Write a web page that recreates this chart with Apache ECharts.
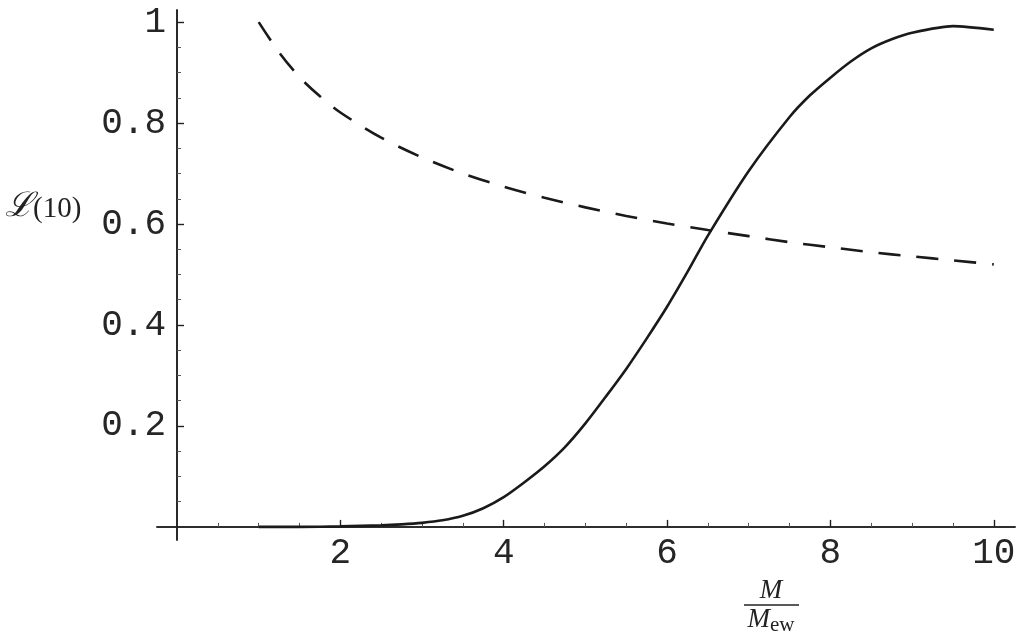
<!DOCTYPE html>
<html><head><meta charset="utf-8">
<script src="https://cdn.jsdelivr.net/npm/echarts@6/dist/echarts.min.js"></script>
<style>html,body{margin:0;padding:0;background:#fff}#c{width:1024px;height:642px}</style>
</head><body><div id="c"></div>
<script>
// x values (M / M_ew)
const solidX = [1,1.5,2,2.5,2.75,3,3.25,3.5,3.75,4,4.25,4.5,4.75,5,5.25,5.5,5.75,6,6.25,6.5,7,7.5,7.75,8,8.25,8.5,8.75,9,9.5,10];
const solidY = [0,0,0.001,0.003,0.005,0.008,0.013,0.022,0.037,0.059,0.088,0.12,0.158,0.205,0.258,0.313,0.373,0.436,0.505,0.577,0.705,0.812,0.855,0.89,0.922,0.948,0.966,0.979,0.992,0.985];
const dashX = [1,1.25,1.5,1.75,2,2.5,3,3.5,4,4.5,5,5.5,6,6.5,7,7.5,8,8.5,9,9.5,10];
const dashY = [1.0,0.94,0.891,0.853,0.821,0.771,0.732,0.70,0.674,0.652,0.633,0.616,0.601,0.588,0.576,0.564,0.554,0.544,0.536,0.528,0.52];
const xMajor = [2,4,6,8,10];
const xMinor = [0.5,1,1.5,2.5,3,3.5,4.5,5,5.5,6.5,7,7.5,8.5,9,9.5];
const yMajor = [0.2,0.4,0.6,0.8,1];
const yMinor = [0.05,0.1,0.15,0.25,0.3,0.35,0.45,0.5,0.55,0.65,0.7,0.75,0.85,0.9,0.95];

const ink = '#1a1a1a';
const labelFont = {fontFamily:'Liberation Mono', fontSize:36, color:'#262626'};
const chart = echarts.init(document.getElementById('c'), null, {renderer:'canvas'});
const axisLine = {onZero:true, lineStyle:{color:'#222', width:1.6}};
chart.setOption({
  animation:false,
  grid:{left:157, right:9, top:10, bottom:102},
  xAxis:[
    {type:'value', min:-0.245, max:10.26, position:'bottom', axisLine:axisLine, splitLine:{show:false},
     axisTick:{inside:true, length:7, customValues:xMajor, lineStyle:{color:'#222', width:1.4}},
     axisLabel:{customValues:xMajor, margin:-5, formatter:v=>String(v), ...labelFont}},
    {type:'value', min:-0.245, max:10.26, position:'bottom', axisLine:axisLine, splitLine:{show:false},
     axisTick:{inside:true, length:4, customValues:xMinor, lineStyle:{color:'#555', width:1}},
     axisLabel:{show:false}}
  ],
  yAxis:[
    {type:'value', min:-0.026, max:1.024, position:'left', axisLine:axisLine, splitLine:{show:false},
     axisTick:{inside:true, length:7, customValues:yMajor, lineStyle:{color:'#222', width:1.4}},
     axisLabel:{customValues:yMajor, margin:-9, formatter:v=>String(v), ...labelFont}},
    {type:'value', min:-0.026, max:1.024, position:'left', axisLine:axisLine, splitLine:{show:false},
     axisTick:{inside:true, length:4, customValues:yMinor, lineStyle:{color:'#555', width:1}},
     axisLabel:{show:false}}
  ],
  series:[
    {type:'line', xAxisIndex:0, yAxisIndex:0, data:solidX.map((x,i)=>[x,solidY[i]]), showSymbol:false, smooth:0.25,
     lineStyle:{color:ink, width:2.6}},
    {type:'line', xAxisIndex:0, yAxisIndex:0, data:dashX.map((x,i)=>[x,dashY[i]]), showSymbol:false, smooth:0.3,
     lineStyle:{color:ink, width:2.6, type:[22,16]}}
  ],
  graphic:[
    {type:'text', left:5, top:190, style:{
      text:'{a|ℒ}{b|(10)}',
      rich:{a:{fontFamily:'DejaVu Serif', fontSize:34, fontStyle:'italic', fill:'#222', verticalAlign:'bottom'},
            b:{fontFamily:'Liberation Serif', fontSize:29, fill:'#222', padding:[18,0,0,0]}}
    }},
    {type:'text', x:771, y:591, style:{text:'M', fontFamily:'Liberation Serif', fontStyle:'italic', fontSize:27,
      fill:'#222', align:'center', verticalAlign:'middle'}},
    {type:'line', shape:{x1:744, y1:605, x2:799, y2:605}, style:{stroke:'#222', lineWidth:1.5}},
    {type:'text', x:771, y:620, style:{text:'{m|M}{s|ew}', align:'center', verticalAlign:'middle',
      rich:{m:{fontFamily:'Liberation Serif', fontStyle:'italic', fontSize:27, fill:'#222'},
            s:{fontFamily:'Liberation Serif', fontSize:21, fill:'#222', padding:[10,0,0,0]}}}}
  ]
});
</script></body></html>
